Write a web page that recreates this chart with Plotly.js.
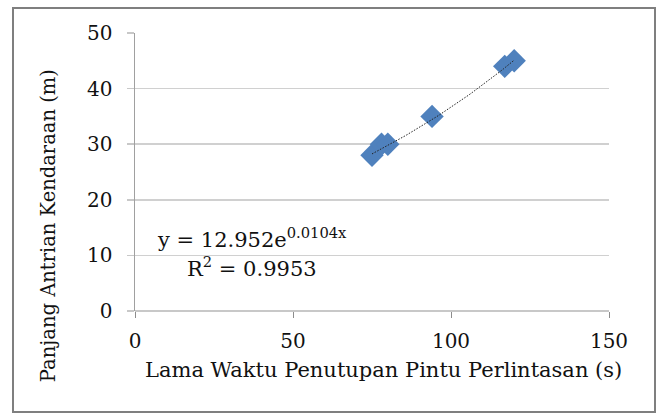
<!DOCTYPE html>
<html>
<head>
<meta charset="utf-8">
<script src="https://cdn.plot.ly/plotly-3.0.1.min.js"></script>
<style>html,body{margin:0;padding:0;background:#fff;}#chart{width:659px;height:415px;}</style>
</head>
<body>
<div id="chart"></div>
<script>
// Data
const closingTime = [75, 78, 80, 94, 117, 120];      // Lama Waktu Penutupan Pintu Perlintasan (s)
const queueLength = [28, 30, 30, 35, 44, 45];        // Panjang Antrian Kendaraan (m)
// Exponential trendline shown on the chart: y = a * e^(b x)
const trendA = 12.952;
const trendB = 0.0104;
const trendR2 = 0.9953;
const xTicks = [0, 50, 100, 150];
const yTicks = [0, 10, 20, 30, 40, 50];

const xMin = Math.min(...closingTime), xMax = Math.max(...closingTime);
const trendX = [], trendY = [];
for (let i = 0; i <= 40; i++) {
  const x = xMin + (xMax - xMin) * i / 40;
  trendX.push(x);
  trendY.push(trendA * Math.exp(trendB * x));
}

const font = "DejaVu Serif, Liberation Serif, serif";
const traces = [
  {x: closingTime, y: queueLength, mode: 'markers', type: 'scatter',
   marker: {symbol: 'diamond', size: 18, color: '#4F81BD'}},
  {x: trendX, y: trendY, mode: 'lines', type: 'scatter',
   line: {color: '#222222', width: 1, dash: '1.5px,1.5px'}, hoverinfo: 'skip'}
];

const layout = {
  width: 659, height: 415,
  margin: {l: 135, r: 50, t: 33, b: 104},
  paper_bgcolor: '#ffffff', plot_bgcolor: '#ffffff',
  showlegend: false,
  font: {family: font, color: '#000000', size: 19},
  xaxis: {
    range: [0, 150], tickvals: xTicks, ticktext: xTicks.map(String),
    showgrid: false, zeroline: false,
    showline: false,
    ticks: 'outside', ticklen: 6, tickcolor: '#8C8C8C', tickwidth: 1,
    ticklabelstandoff: 6,
    tickfont: {family: font, size: 20, color: '#111'},
    fixedrange: true
  },
  yaxis: {
    range: [0, 50], tickvals: yTicks, ticktext: yTicks.map(String),
    showgrid: true, gridcolor: '#D0D0D0', gridwidth: 1.5,
    zeroline: true, zerolinecolor: '#C8C8C8', zerolinewidth: 1.5,
    showline: true, linecolor: '#A0A0A0', linewidth: 1.5,
    ticks: 'outside', ticklen: 7, tickcolor: '#C8C8C8', tickwidth: 1.5,
    ticklabelstandoff: 10,
    tickfont: {family: font, size: 20, color: '#111'},
    fixedrange: true
  },
  annotations: [
    {xref: 'paper', yref: 'paper', x: 0.525, y: -0.212, xanchor: 'center', yanchor: 'middle',
     text: 'Lama Waktu Penutupan Pintu Perlintasan (s)', showarrow: false,
     font: {family: font, size: 21, color: '#111'}},
    {xref: 'paper', yref: 'paper', x: -0.181, y: 0.306, xanchor: 'center', yanchor: 'middle',
     text: 'Panjang Antrian Kendaraan (m)', textangle: -90, showarrow: false,
     font: {family: font, size: 19.5, color: '#111'}},
    {xref: 'x', yref: 'y', x: 37, y: 13.1, xanchor: 'center', yanchor: 'middle',
     text: 'y = ' + trendA + 'e<sup>' + trendB + 'x</sup>', showarrow: false,
     font: {family: font, size: 21, color: '#111'}},
    {xref: 'x', yref: 'y', x: 37, y: 7.9, xanchor: 'center', yanchor: 'middle',
     text: 'R<sup>2</sup> = ' + trendR2, showarrow: false,
     font: {family: font, size: 21, color: '#111'}}
  ],
  shapes: [
    {type: 'rect', xref: 'paper', yref: 'paper',
     x0: (13 - 135) / 474, x1: (655 - 135) / 474,
     y0: (311 - 412) / 278, y1: (311 - 8) / 278,
     line: {color: '#7F7F7F', width: 2}, fillcolor: 'rgba(0,0,0,0)', layer: 'below'}
  ]
};

Plotly.newPlot('chart', traces, layout, {displayModeBar: false, staticPlot: true});
</script>
</body>
</html>
